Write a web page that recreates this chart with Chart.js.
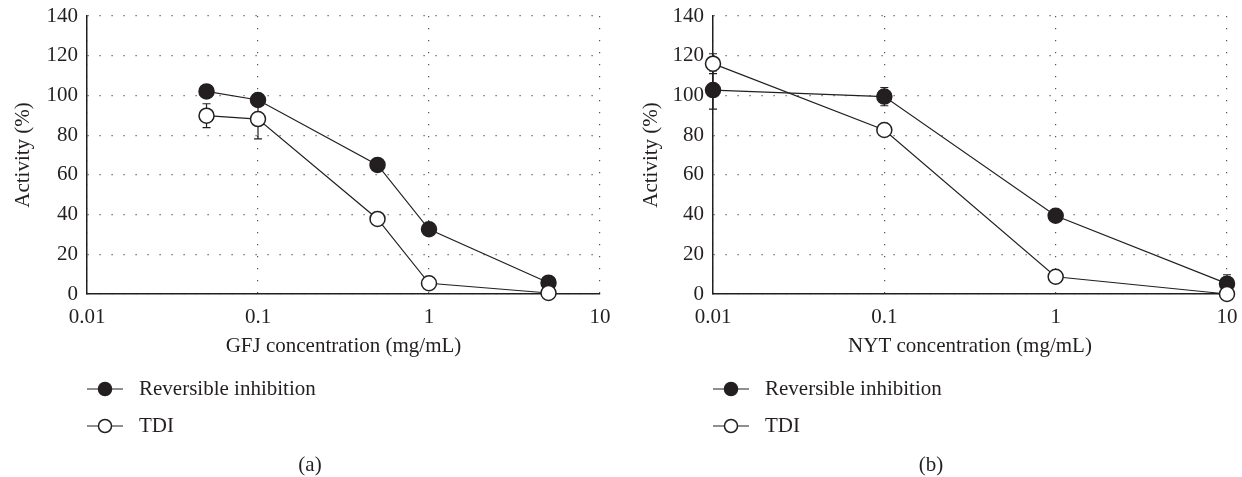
<!DOCTYPE html>
<html>
<head>
<meta charset="utf-8">
<script src="https://cdn.jsdelivr.net/npm/chart.js@4.4.0/dist/chart.umd.min.js"></script>
<style>
  html, body { margin: 0; padding: 0; background: #fff; }
  #wrap { position: relative; width: 1242px; height: 477px; }
  canvas { position: absolute; top: 0; }
  #chartA { left: 0; }
  #chartB { left: 620px; }
</style>
</head>
<body>
<div id="wrap">
  <canvas id="chartA" width="620" height="477"></canvas>
  <canvas id="chartB" width="622" height="477"></canvas>
</div>
<script>
var xTicks = [0.01, 0.1, 1, 10];
var seriesNames = ["Reversible inhibition", "TDI"];

// panel (a): grapefruit juice
var gfjConc = [0.05, 0.1, 0.5, 1, 5];
var gfjReversible = [102, 97.7, 65, 32.6, 5.7];
var gfjReversibleErr = [1.5, 2, 2, 2, 1.5];
var gfjTdi = [89.8, 88.1, 37.8, 5.4, 0.5];
var gfjTdiErr = [6, 10, 1.5, 1.5, 0];

// panel (b): NYT
var nytConc = [0.01, 0.1, 1, 10];
var nytReversible = [102.7, 99.4, 39.4, 5.2];
var nytReversibleErr = [9.6, 4.6, 1.5, 4.5];
var nytTdi = [116, 82.6, 8.7, 0];
var nytTdiErr = [5, 1.5, 1.5, 0];

var ink = "#231f20";
var fontFamily = "'Liberation Serif', 'Times New Roman', serif";
Chart.defaults.font.family = fontFamily;
Chart.defaults.font.size = 21;
Chart.defaults.color = ink;

var errorBars = {
    id: "errorBars",
    beforeDatasetsDraw: chart => {
        const ctx = chart.ctx, y = chart.scales.y;
        chart.data.datasets.forEach((ds, i) => {
            const meta = chart.getDatasetMeta(i);
            ctx.save();
            ctx.strokeStyle = ink;
            ctx.lineWidth = 1.2;
            meta.data.forEach((pt, j) => {
                const v = ds.data[j].y, e = ds.errors[j];
                if (!e) return;
                const top = y.getPixelForValue(v + e), bot = y.getPixelForValue(v - e);
                ctx.beginPath();
                ctx.moveTo(pt.x, top); ctx.lineTo(pt.x, bot);
                ctx.moveTo(pt.x - 4, top); ctx.lineTo(pt.x + 4, top);
                ctx.moveTo(pt.x - 4, bot); ctx.lineTo(pt.x + 4, bot);
                ctx.stroke();
            });
            ctx.restore();
        });
    }
};

// legend rows with line-through markers, plus the panel caption
var legendRows = {
    id: "legendRows",
    afterDraw: (chart, args, opts) => {
        const ctx = chart.ctx, left = chart.chartArea.left;
        ctx.save();
        ctx.font = "21px " + fontFamily;
        ctx.textBaseline = "middle";
        chart.data.datasets.forEach((ds, i) => {
            const y = opts.top + i * opts.rowGap;
            ctx.strokeStyle = ink;
            ctx.lineWidth = 1.2;
            ctx.beginPath(); ctx.moveTo(left, y); ctx.lineTo(left + 36, y); ctx.stroke();
            ctx.beginPath(); ctx.arc(left + 18, y, 6.5, 0, Math.PI * 2);
            ctx.fillStyle = ds.pointBackgroundColor; ctx.fill();
            ctx.lineWidth = 1.5; ctx.stroke();
            ctx.fillStyle = ink;
            ctx.textAlign = "left";
            ctx.fillText(ds.label, left + 52, y);
        });
        ctx.textAlign = "center";
        ctx.fillText(opts.caption, chart.width / 2, opts.captionY);
        ctx.restore();
    }
};

var series = (label, xs, ys, errs, fill, order) => ({
    label: label,
    data: xs.map((x, i) => ({ x: x, y: ys[i] })),
    errors: errs,
    borderColor: ink,
    borderWidth: 1.2,
    pointRadius: 7.5,
    pointHoverRadius: 7.5,
    pointBorderWidth: 1.5,
    pointBorderColor: ink,
    pointBackgroundColor: fill,
    tension: 0,
    clip: false,
    order: order
});

var makePanel = options => {
    let ctx = document.getElementById(options.elementId).getContext("2d");
    return new Chart(ctx, {
        type: "line",
        data: {
            datasets: [
                series(seriesNames[0], options.conc, options.reversible, options.reversibleErr, ink, 1),
                series(seriesNames[1], options.conc, options.tdi, options.tdiErr, "#ffffff", 0)
            ]
        },
        options: {
            responsive: false,
            animation: false,
            events: [],
            layout: { padding: { left: 0, top: 16, right: options.rightPad, bottom: 118 } },
            plugins: {
                legend: { display: false },
                tooltip: { enabled: false },
                legendRows: { top: 389, rowGap: 37, caption: options.caption, captionY: 465 }
            },
            scales: {
                x: {
                    type: "logarithmic",
                    min: 0.01,
                    max: 10,
                    afterBuildTicks: scale => { scale.ticks = xTicks.map(v => ({ value: v })); },
                    afterFit: scale => {
                        scale.height = 65;
                        scale.paddingLeft = 0;
                        scale.paddingRight = 0;
                    },
                    ticks: { autoSkip: false, maxRotation: 0, padding: 11, callback: v => String(v) },
                    grid: { color: "#555", lineWidth: 1.2, drawTicks: false },
                    border: { color: ink, width: 1.5, dash: [1.2, 10.8] },
                    title: { display: true, text: options.xTitle, padding: 0 }
                },
                y: {
                    min: 0,
                    max: 140,
                    afterFit: scale => {
                        scale.width = options.axisLeft;
                        scale.paddingTop = 0;
                        scale.paddingBottom = 0;
                    },
                    ticks: { stepSize: 20, padding: 9 },
                    grid: { color: "#555", lineWidth: 1.2, drawTicks: false },
                    border: { color: ink, width: 1.5, dash: [1.2, 10.8] },
                    title: { display: true, text: "Activity (%)", padding: options.yTitlePad }
                }
            }
        },
        plugins: [errorBars, legendRows]
    });
};

makePanel({
    elementId: "chartA",
    conc: gfjConc,
    reversible: gfjReversible,
    reversibleErr: gfjReversibleErr,
    tdi: gfjTdi,
    tdiErr: gfjTdiErr,
    xTitle: "GFJ concentration (mg/mL)",
    caption: "(a)",
    axisLeft: 87,
    rightPad: 20,
    yTitlePad: 11
});

makePanel({
    elementId: "chartB",
    conc: nytConc,
    reversible: nytReversible,
    reversibleErr: nytReversibleErr,
    tdi: nytTdi,
    tdiErr: nytTdiErr,
    xTitle: "NYT concentration (mg/mL)",
    caption: "(b)",
    axisLeft: 93,
    rightPad: 15,
    yTitlePad: 19
});
</script>
</body>
</html>
